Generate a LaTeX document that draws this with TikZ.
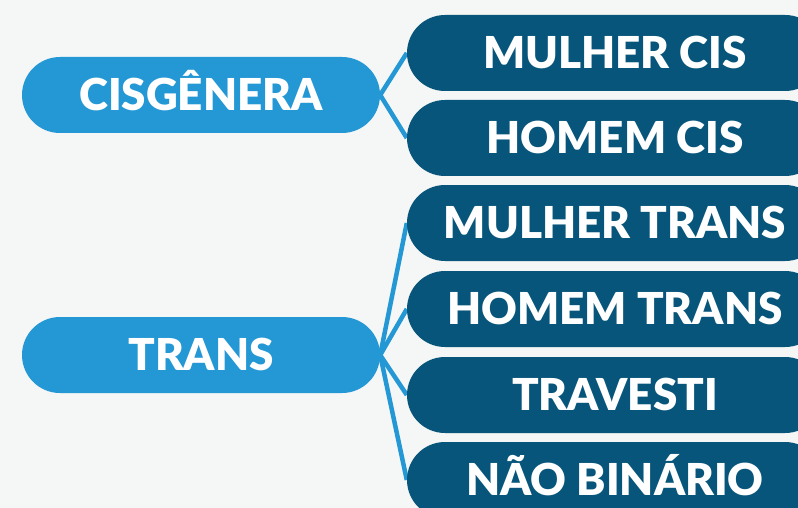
\documentclass[tikz,border=0pt]{standalone}
\usepackage{fontspec}
\setmainfont{Lato}[BoldFont={Lato Black}]
\definecolor{bgc}{HTML}{F5F6F6}
\definecolor{lightb}{HTML}{2497D5}
\definecolor{darkb}{HTML}{07557A}
\pgfdeclarelayer{bg}
\pgfdeclarelayer{edges}
\pgfsetlayers{bg,edges,main}
\tikzset{
  pill/.style={rectangle, rounded corners=38pt, minimum height=76pt, inner sep=0pt,
    text=white, font=\fontsize{44}{44}\selectfont\bfseries, text height=31.5pt, text depth=0pt},
  parentpill/.style={pill, fill=lightb, minimum width=358pt},
  childpill/.style={pill, fill=darkb, minimum width=416pt},
  link/.style={draw=lightb, line width=4.5pt}
}
\begin{document}
\begin{tikzpicture}[x=1pt,y=-1pt]
\useasboundingbox (0,0) rectangle (798,508);
\begin{pgfonlayer}{bg}
\fill[bgc] (0,0) rectangle (798,508);
\end{pgfonlayer}
\clip (0,0) rectangle (798,508);
\node[parentpill] (cis) at (201,95) {CISGÊNERA};
\node[parentpill] (trans) at (201,355) {TRANS};
\node[childpill] (mc) at (615,53) {MULHER CIS};
\node[childpill] (hc) at (615,138) {HOMEM CIS};
\node[childpill] (mt) at (615,223) {MULHER TRANS};
\node[childpill] (ht) at (615,309) {HOMEM TRANS};
\node[childpill] (tv) at (615,395) {TRAVESTI};
\node[childpill] (nb) at (615,480) {NÃO BINÁRIO};
\begin{pgfonlayer}{edges}
\foreach \c in {mc,hc} \path[link] (cis.east) -- (\c.west);
\foreach \c in {mt,ht,tv,nb} \path[link] (trans.east) -- (\c.west);
\end{pgfonlayer}
\end{tikzpicture}
\end{document}
